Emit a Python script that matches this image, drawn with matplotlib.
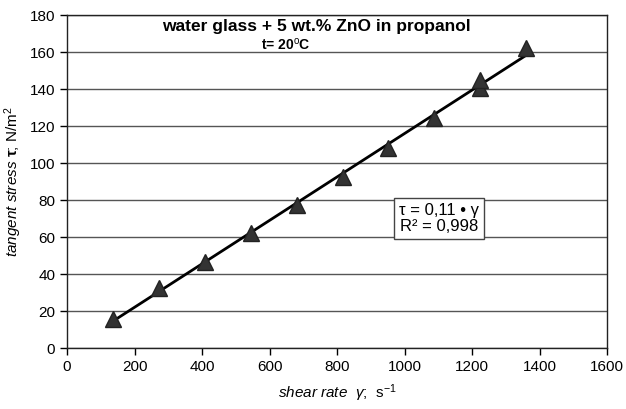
import matplotlib.pyplot as plt
import numpy as np

plt.rcParams['font.family'] = ['Liberation Sans', 'DejaVu Sans']
plt.rcParams['mathtext.fontset'] = 'custom'
plt.rcParams['mathtext.rm'] = 'Liberation Sans'
plt.rcParams['mathtext.it'] = 'Liberation Sans:italic'
plt.rcParams['mathtext.bf'] = 'Liberation Sans:bold'

# shear rate (1/s) and tangent stress (N/m2)
shear_rate = [136, 272, 408, 544, 680, 816, 952, 1088, 1224, 1224, 1360]
stress = [15.5, 32.5, 46.5, 62, 77.5, 92.5, 108, 124.5, 140.5, 145, 162]
x_ticks = [0, 200, 400, 600, 800, 1000, 1200, 1400, 1600]
y_ticks = [0, 20, 40, 60, 80, 100, 120, 140, 160, 180]

fig = plt.figure(figsize=(6.26, 4.09), dpi=100)
ax = fig.add_axes([0.107, 0.149, 0.863, 0.814])

# linear trend line over the data range
k, b = np.polyfit(shear_rate, stress, 1)
xs = np.array([min(shear_rate), max(shear_rate)])
ax.plot(xs, k * xs + b, color='black', lw=2, zorder=3)
ax.plot(shear_rate, stress, linestyle='none', marker='^', markersize=12,
        markerfacecolor='#333333', markeredgecolor='#222222', zorder=4)

ax.set_xlim(0, 1600)
ax.set_ylim(0, 180)
ax.set_xticks(x_ticks)
ax.set_yticks(y_ticks)
ax.tick_params(direction='out', length=5, width=1, labelsize=11, colors='black')
ax.yaxis.grid(True, color='#555555', lw=1)
ax.set_axisbelow(True)
for s in ax.spines.values():
    s.set_color('#222222')
    s.set_linewidth(1)

ax.set_xlabel(r'$\it{shear\ rate}$  $\it{\gamma}$;  s$^{-1}$', fontsize=11, labelpad=6)
ax.set_ylabel(r'$\it{tangent\ stress}$ $\mathbf{\tau}$; N/m$^{2}$', fontsize=11, labelpad=4)

ax.text(0.461, 0.965, 'water glass + 5 wt.% ZnO in propanol', transform=ax.transAxes,
        ha='center', va='center', fontsize=12.5, fontweight='bold')
ax.text(0.405, 0.91, r't= 20$^{\rm o}$C', transform=ax.transAxes,
        ha='center', va='center', fontsize=10, fontweight='bold')

ax.text(1102, 70, '\u03c4 = 0,11 \u2022 \u03b3\nR\u00b2 = 0,998',
        fontsize=12, ha='center', va='center', linespacing=1.05,
        bbox=dict(boxstyle='square,pad=0.3', facecolor='white', edgecolor='#444444', lw=1))

plt.savefig('out.png', dpi=100)
